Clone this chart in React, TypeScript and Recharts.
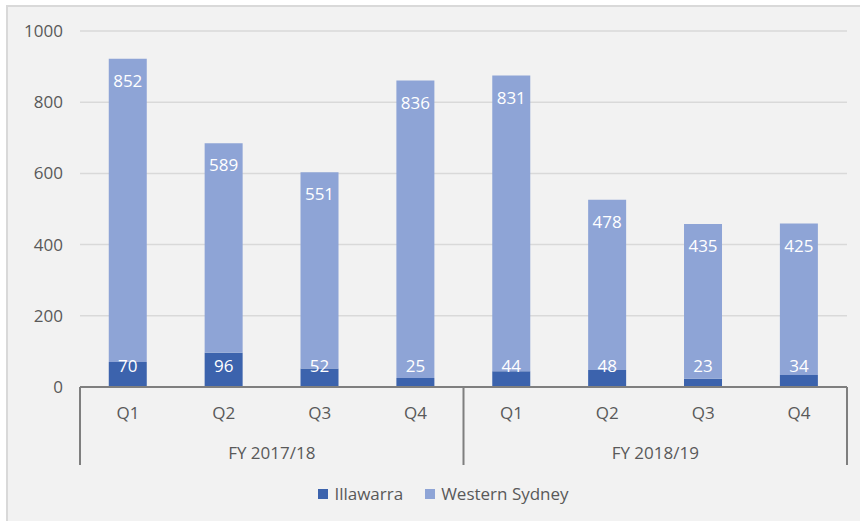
import React from "react";
import { BarChart, Bar, XAxis, YAxis, CartesianGrid, Legend, LabelList } from "recharts";

const quarters = ["Q1", "Q2", "Q3", "Q4", "Q1", "Q2", "Q3", "Q4"];
const fiscalYears = ["FY 2017/18", "FY 2017/18", "FY 2017/18", "FY 2017/18", "FY 2018/19", "FY 2018/19", "FY 2018/19", "FY 2018/19"];
const illawarra = [70, 96, 52, 25, 44, 48, 23, 34];
const westernSydney = [852, 589, 551, 836, 831, 478, 435, 425];
const yTicks = [0, 200, 400, 600, 800, 1000];

const data = quarters.map((q, i) => ({
  q,
  fy: fiscalYears[i],
  Illawarra: illawarra[i],
  "Western Sydney": westernSydney[i],
}));

const FONT = "'Open Sans', sans-serif";
const TEXT = "#595959";
const AXIS = "#7F7F7F";
const DARK = "#3C63AD";
const LIGHT = "#8EA4D6";

const QuarterTick = (props: any) => {
  const { x, y, payload, index, width, visibleTicksCount } = props;
  const count = visibleTicksCount || data.length;
  const bw = width && count ? width / count : (payload.offset || 0) * 2;
  const row = data[index];
  const isStart = index === 0 || data[index - 1].fy !== row.fy;
  const isLast = index === data.length - 1;
  let groupSize = 0;
  if (isStart) {
    let j = index;
    while (j < data.length && data[j].fy === row.fy) {
      groupSize++;
      j++;
    }
  }
  return (
    <g>
      <text x={x} y={y + 32} textAnchor="middle" fill={TEXT} fontSize={17} fontFamily={FONT}>
        {payload.value}
      </text>
      {isStart && (
        <line x1={x - bw / 2} x2={x - bw / 2} y1={y} y2={y + 78} stroke={AXIS} strokeWidth={2} />
      )}
      {isLast && (
        <line x1={x + bw / 2} x2={x + bw / 2} y1={y} y2={y + 78} stroke={AXIS} strokeWidth={2} />
      )}
      {isStart && (
        <text
          x={x - bw / 2 + (groupSize * bw) / 2}
          y={y + 72}
          textAnchor="middle"
          fill={TEXT}
          fontSize={17}
          fontFamily={FONT}
        >
          {row.fy}
        </text>
      )}
    </g>
  );
};

const LegendContent = () => {
  const items = [
    { name: "Illawarra", color: DARK },
    { name: "Western Sydney", color: LIGHT },
  ];
  return (
    <div style={{ display: "flex", justifyContent: "center", alignItems: "center", fontFamily: FONT, fontSize: 17, color: TEXT }}>
      {items.map((it, i) => (
        <div key={it.name} style={{ display: "flex", alignItems: "center", marginLeft: i === 0 ? 0 : 22 }}>
          <span style={{ display: "inline-block", width: 10, height: 10, background: it.color, marginRight: 6 }} />
          <span>{it.name}</span>
        </div>
      ))}
    </div>
  );
};

export default function App() {
  return (
    <div style={{ position: "absolute", left: 0, top: 0, width: 860, height: 521, background: "#FFFFFF", overflow: "hidden" }}>
      <div
        style={{
          position: "absolute",
          left: 6,
          top: 5,
          width: 870,
          height: 530,
          background: "#F2F2F2",
          borderLeft: "2px solid #D9D9D9",
          borderTop: "2px solid #D9D9D9",
        }}
      />
      <div style={{ position: "absolute", left: 0, top: 0 }}>
        <BarChart
          width={860}
          height={521}
          data={data}
          margin={{ top: 31, right: 13, bottom: 56, left: 0 }}
          barCategoryGap="30%"
          style={{ fontFamily: FONT }}
        >
          <CartesianGrid vertical={false} stroke="#D9D9D9" strokeWidth={1.5} />
          <YAxis
            width={80}
            domain={[0, 1000]}
            ticks={yTicks}
            tickLine={false}
            axisLine={false}
            tickSize={0}
            tickMargin={17}
            tick={{ fill: TEXT, fontSize: 17, fontFamily: FONT }}
          />
          <XAxis
            dataKey="q"
            height={78}
            tickLine={false}
            tickSize={0}
            tickMargin={0}
            interval={0}
            axisLine={{ stroke: AXIS, strokeWidth: 2 }}
            tick={<QuarterTick />}
          />
          <Legend
            verticalAlign="middle"
            align="center"
            wrapperStyle={{ top: 482, left: 27, width: 833 }}
            content={<LegendContent />}
          />
          <Bar dataKey="Illawarra" stackId="a" fill={DARK} isAnimationActive={false}>
            <LabelList dataKey="Illawarra" position="insideBottom" offset={15} fill="#FFFFFF" fontSize={17} fontFamily={FONT} />
          </Bar>
          <Bar dataKey="Western Sydney" stackId="a" fill={LIGHT} isAnimationActive={false}>
            <LabelList dataKey="Western Sydney" position="insideTop" offset={16} fill="#FFFFFF" fontSize={17} fontFamily={FONT} />
          </Bar>
        </BarChart>
      </div>
    </div>
  );
}
